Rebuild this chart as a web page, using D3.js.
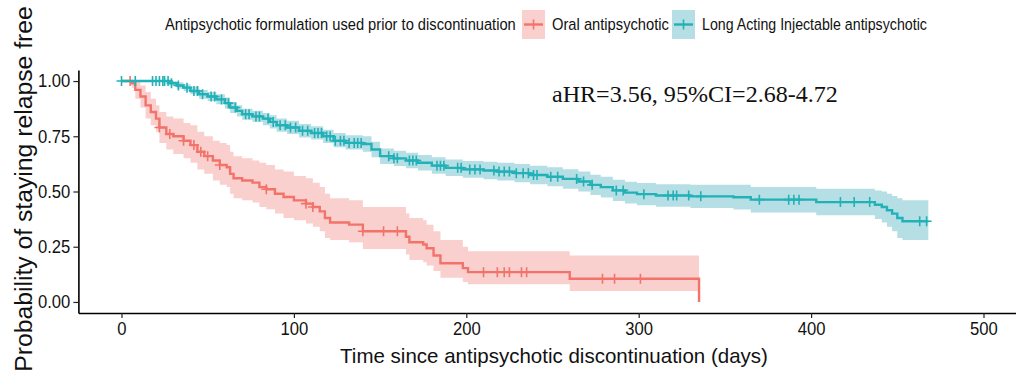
<!DOCTYPE html>
<html>
<head>
<meta charset="utf-8">
<script src="https://cdn.jsdelivr.net/npm/d3@7"></script>
<style>
  body { margin: 0; background: #fff; }
  text { font-family: "Liberation Sans", Arial, sans-serif; fill: #111; }
</style>
</head>
<body>
<svg id="chart" width="1016" height="374"></svg>
<script>
// Oral antipsychotic: KM step points
const oralTime  = [0, 6, 8, 11, 14, 17, 20, 22, 26, 30, 36, 40, 44, 48, 53, 57, 61, 63, 65, 70, 76, 80, 84, 89, 94, 100, 107, 111, 115, 118, 121, 132, 140, 165, 167, 175, 177, 181, 185, 198, 201, 260, 335]
const oralSurv  = [1, 0.99, 0.96, 0.93, 0.89, 0.86, 0.83, 0.79, 0.76, 0.75, 0.73, 0.71, 0.68, 0.66, 0.64, 0.62, 0.61, 0.58, 0.56, 0.55, 0.54, 0.52, 0.51, 0.49, 0.475, 0.46, 0.445, 0.43, 0.41, 0.38, 0.36, 0.35, 0.32, 0.295, 0.27, 0.26, 0.243, 0.21, 0.175, 0.153, 0.135, 0.105, 0]
const oralLower = [1, 0.97, 0.92, 0.88, 0.83, 0.8, 0.77, 0.72, 0.69, 0.67, 0.65, 0.63, 0.6, 0.58, 0.55, 0.53, 0.52, 0.49, 0.47, 0.46, 0.45, 0.43, 0.42, 0.4, 0.38, 0.37, 0.355, 0.34, 0.32, 0.29, 0.28, 0.27, 0.24, 0.215, 0.19, 0.18, 0.165, 0.14, 0.11, 0.09, 0.08, 0.05, 0.05]
const oralUpper = [1, 1, 1, 0.98, 0.95, 0.92, 0.89, 0.86, 0.84, 0.83, 0.81, 0.8, 0.77, 0.75, 0.73, 0.72, 0.71, 0.68, 0.66, 0.65, 0.64, 0.63, 0.62, 0.6, 0.59, 0.57, 0.56, 0.54, 0.52, 0.49, 0.47, 0.46, 0.43, 0.4, 0.38, 0.37, 0.35, 0.32, 0.28, 0.25, 0.23, 0.21, 0.21]
const oralCensor = [5, 22, 28, 36, 42, 46, 50, 57, 84, 107, 111, 140, 152, 160, 210, 218, 222, 225, 232, 235, 279, 286, 301]

// Long Acting Injectable antipsychotic
const laiTime  = [0, 28, 32, 36, 40, 45, 50, 55, 60, 63, 67, 70, 76, 82, 86, 90, 96, 103, 110, 117, 123, 130, 140, 145, 150, 158, 165, 172, 180, 188, 198, 210, 218, 228, 237, 247, 256, 265, 272, 278, 285, 292, 299, 310, 330, 355, 365, 403, 437, 441, 444, 447, 450, 453, 468]
const laiSurv  = [1, 0.99, 0.98, 0.97, 0.955, 0.94, 0.93, 0.917, 0.9, 0.88, 0.865, 0.85, 0.84, 0.83, 0.815, 0.8, 0.79, 0.775, 0.765, 0.75, 0.73, 0.72, 0.715, 0.69, 0.66, 0.65, 0.64, 0.63, 0.617, 0.607, 0.6, 0.595, 0.59, 0.583, 0.575, 0.567, 0.557, 0.545, 0.53, 0.52, 0.505, 0.495, 0.488, 0.482, 0.478, 0.474, 0.463, 0.452, 0.44, 0.43, 0.415, 0.4, 0.38, 0.365, 0.365]
const laiLower = [1, 0.98, 0.965, 0.955, 0.94, 0.92, 0.91, 0.895, 0.875, 0.855, 0.84, 0.825, 0.815, 0.8, 0.785, 0.77, 0.76, 0.745, 0.735, 0.72, 0.7, 0.69, 0.68, 0.655, 0.625, 0.615, 0.605, 0.595, 0.58, 0.57, 0.562, 0.555, 0.55, 0.542, 0.533, 0.524, 0.513, 0.5, 0.484, 0.473, 0.457, 0.446, 0.438, 0.431, 0.425, 0.418, 0.405, 0.392, 0.375, 0.36, 0.34, 0.32, 0.29, 0.28, 0.28]
const laiUpper = [1, 1, 0.995, 0.985, 0.975, 0.96, 0.95, 0.94, 0.925, 0.905, 0.89, 0.875, 0.865, 0.855, 0.845, 0.83, 0.82, 0.805, 0.795, 0.78, 0.765, 0.755, 0.75, 0.725, 0.695, 0.685, 0.675, 0.665, 0.655, 0.645, 0.638, 0.635, 0.63, 0.624, 0.617, 0.61, 0.601, 0.59, 0.576, 0.567, 0.553, 0.544, 0.538, 0.533, 0.531, 0.53, 0.52, 0.512, 0.505, 0.5, 0.49, 0.48, 0.47, 0.46, 0.46]
const laiCensor = [0, 8, 18, 20, 22, 24, 25, 27, 29, 33, 38, 42, 44, 47, 52, 54, 58, 62, 66, 72, 74, 78, 80, 85, 88, 92, 95, 98, 101, 105, 108, 112, 114, 116, 119, 121, 124, 127, 129, 132, 135, 137, 139, 155, 158, 160, 167, 169, 171, 183, 185, 187, 195, 197, 202, 205, 208, 216, 219, 222, 225, 229, 233, 236, 239, 241, 249, 253, 264, 268, 273, 287, 291, 303, 317, 320, 322, 329, 336, 370, 387, 390, 393, 417, 425, 434, 463, 467]

const xTicks = [0, 100, 200, 300, 400, 500]
const yTicks = [0, 0.25, 0.5, 0.75, 1]

const groups = [
  { name: 'Oral antipsychotic', time: oralTime, surv: oralSurv, lower: oralLower, upper: oralUpper, censor: oralCensor, line: '#F3736B', band: '#F9D0CE' },
  { name: 'Long Acting Injectable antipsychotic', time: laiTime, surv: laiSurv, lower: laiLower, upper: laiUpper, censor: laiCensor, line: '#22B1B7', band: '#B5DFE4' }
]

const svg = d3.select('#chart')
const x = d3.scaleLinear().domain([-25, 525]).range([78.4, 1026.6])
const y = d3.scaleLinear().domain([-0.05, 1.05]).range([313, 70])

const rows = g => g.time.map((t, i) => ({ t, s: g.surv[i], lo: g.lower[i], hi: g.upper[i] }))

const area = d3.area().curve(d3.curveStepAfter).x(d => x(d.t)).y0(d => y(d.lo)).y1(d => y(d.hi))
const line = d3.line().curve(d3.curveStepAfter).x(d => x(d.t)).y(d => y(d.s))

// squeeze a text horizontally to a target width (the original font is condensed)
function squeeze(sel, width, pre) {
  const w = sel.node().getComputedTextLength()
  sel.attr('transform', `${pre} scale(${width / w},1)`)
}

// bands
groups.forEach(g => {
  svg.append('path').datum(rows(g)).attr('d', area).attr('fill', g.band)
})

// curves + censor marks
groups.forEach(g => {
  const data = rows(g)
  svg.append('path').datum(data).attr('d', line)
    .attr('fill', 'none').attr('stroke', g.line).attr('stroke-width', 2.4)
  const bis = d3.bisector(d => d.t).right
  svg.append('g').selectAll('path').data(g.censor).join('path')
    .attr('d', t => {
      const d = data[Math.max(0, bis(data, t) - 1)]
      const cx = x(t), cy = y(d.s)
      return `M${cx - 5},${cy}h10M${cx},${cy - 5}v10`
    })
    .attr('stroke', g.line).attr('stroke-width', 1.6).attr('fill', 'none')
})

// axes
const xAxis = svg.append('g').attr('transform', 'translate(0,313)')
  .call(d3.axisBottom(x).tickValues(xTicks).tickSize(5).tickSizeOuter(0).tickPadding(4))
const yAxis = svg.append('g').attr('transform', 'translate(78.4,0)')
  .call(d3.axisLeft(y).tickValues(yTicks).tickSize(5).tickSizeOuter(0).tickPadding(3).tickFormat(d3.format('.2f')))
;[xAxis, yAxis].forEach(a => {
  a.select('.domain').attr('stroke', '#000').attr('stroke-width', 1.6)
  a.selectAll('.tick line').attr('stroke', '#222').attr('stroke-width', 1.2)
  a.selectAll('.tick text').attr('font-size', 18.5).attr('fill', '#111')
    .style('font-family', '"Liberation Sans", Arial, sans-serif')
    .attr('transform', 'scale(0.9,1)')
})
yAxis.selectAll('.tick text').attr('x', -9)

// axis titles
svg.append('text').attr('text-anchor', 'middle').attr('font-size', 20)
  .text('Time since antipsychotic discontinuation (days)')
  .call(squeeze, 428, 'translate(554,363)')
svg.append('text').attr('text-anchor', 'middle').attr('font-size', 23)
  .text('Probability of staying relapse free')
  .call(squeeze, 366, 'translate(32,189) rotate(-90)')

// annotation
svg.append('text')
  .style('font-family', '"Liberation Serif", "Times New Roman", serif')
  .attr('font-size', 24)
  .text('aHR=3.56, 95%CI=2.68-4.72')
  .call(squeeze, 286, 'translate(552,102)')

// legend
const legend = svg.append('g')
legend.append('text').attr('font-size', 17)
  .text('Antipsychotic formulation used prior to discontinuation')
  .call(squeeze, 351, 'translate(165,30)')
const keyX = [522, 672]
const labW = [117, 225]
groups.forEach((g, i) => {
  const k = legend.append('g').attr('transform', `translate(${keyX[i]},10)`)
  k.append('rect').attr('width', 23).attr('height', 29).attr('fill', g.band)
  k.append('path').attr('d', 'M2,14.5h19').attr('stroke', g.line).attr('stroke-width', 2.4)
  k.append('path').attr('d', 'M11.5,9.5v10').attr('stroke', g.line).attr('stroke-width', 1.6)
  legend.append('text').attr('font-size', 17)
    .text(g.name)
    .call(squeeze, labW[i], `translate(${keyX[i] + 30},30)`)
})
</script>
</body>
</html>
